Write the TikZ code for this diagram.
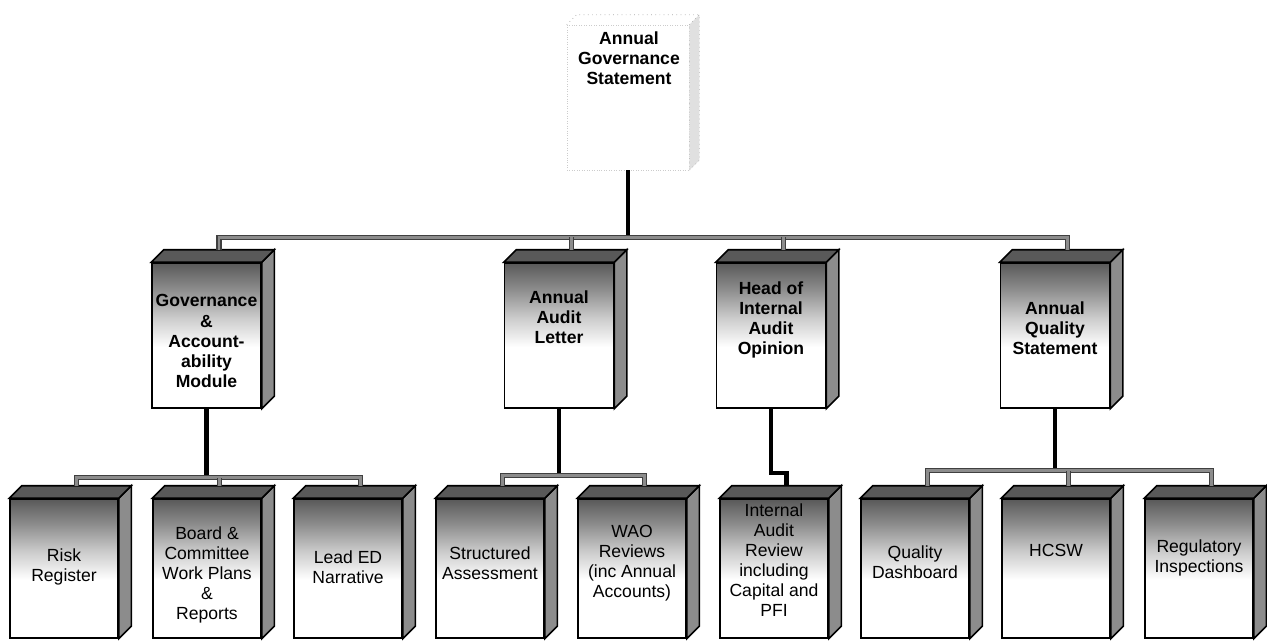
\documentclass[tikz,border=0pt]{standalone}
\usepackage{fontspec}
\setmainfont{Liberation Sans}
\usepackage{tikz}
\usetikzlibrary{positioning}

% dark at the top of a box, white lower down
\pgfdeclareverticalshading{frontshade}{100bp}{color(0bp)=(white); color(46bp)=(white); color(56bp)=(black!20); color(66bp)=(black!45); color(75bp)=(black!65); color(100bp)=(black!65)}

\tikzset{
  headbox/.style={draw, line width=0.9pt, shading=frontshade, minimum width=21.8mm, minimum height=29mm, inner sep=0pt},
  leafbox/.style={headbox, minimum width=21.6mm, minimum height=27.8mm},
  faintbox/.style={draw=black!20, densely dotted, minimum width=24.4mm, minimum height=29mm, inner sep=0pt},
  headtext/.style={font=\bfseries\fontsize{10}{11.4}\selectfont, align=center, inner sep=0pt},
  leaftext/.style={font=\fontsize{10}{11.4}\selectfont, align=center, inner sep=0pt},
  sideface/.style={draw, line width=0.9pt, fill=black!45},
  topface/.style={draw, line width=0.9pt, fill=black!65},
  stem/.style={line width=0.9mm},
  bus/.style={draw=black!75, line width=0.25mm, double=black!45, double distance=0.55mm},
}

% side and top of a box, plus the point where its line comes in
\newcommand{\boxfaces}[1]{%
  \path[sideface] (#1.north east) -- ++(2.5mm,2.5mm) -- ([shift={(2.5mm,2.5mm)}]#1.south east) -- (#1.south east) -- cycle;
  \path[topface] (#1.north west) -- ++(2.5mm,2.5mm) -- ([shift={(2.5mm,2.5mm)}]#1.north east) -- (#1.north east) -- cycle;
  \coordinate (#1-top) at ([shift={(2.5mm,2.5mm)}]#1.north);
}

\begin{document}
\begin{tikzpicture}[x=0.2mm, y=-0.2mm]
  \useasboundingbox (0,0) rectangle (1267,640);

  % Top box
  \node[faintbox] (ags) at (628,97.5) {};
  \path[draw=black!30, dotted, fill=black!12] (ags.north east) -- ++(2mm,2mm) -- ([shift={(2mm,2mm)}]ags.south east) -- (ags.south east) -- cycle;
  \path[draw=black!35, dotted] (ags.north west) -- ++(2mm,2mm) -- ([shift={(2mm,2mm)}]ags.north east);
  \node[headtext] (agstext) at (629,58) {Annual\\Governance\\Statement};

  % Second row
  \node[headbox] (gov) at (206.5,335.5) {};
  \boxfaces{gov}
  \node[headtext] (govtext) at (206.5,341) {Governance\\\&\\Account-\\ability\\Module};

  \node[headbox] (aal) at (559,335.5) {};
  \boxfaces{aal}
  \node[headtext] (aaltext) at (559,317) {Annual\\Audit\\Letter};

  \node[headbox] (hia) at (771,335.5) {};
  \boxfaces{hia}
  \node[headtext] (hiatext) at (771,320) {Head of\\Internal\\Audit\\Opinion};

  \node[headbox] (aqs) at (1055,335.5) {};
  \boxfaces{aqs}
  \node[headtext] (aqstext) at (1055,328) {Annual\\Quality\\Statement};

  % Bottom row
  \node[leafbox] (risk) at (64,568.5) {};
  \boxfaces{risk}
  \node[leaftext] (risktext) at (64,567) {Risk\\Register};

  \node[leafbox] (board) at (207,568.5) {};
  \boxfaces{board}
  \node[leaftext] (boardtext) at (207,575) {Board \&\\Committee\\Work Plans\\\&\\Reports};

  \node[leafbox] (lead) at (348,568.5) {};
  \boxfaces{lead}
  \node[leaftext] (leadtext) at (348,567) {Lead ED\\Narrative};

  \node[leafbox] (struct) at (490,568.5) {};
  \boxfaces{struct}
  \node[leaftext] (structtext) at (490,563) {Structured\\Assessment};

  \node[leafbox] (wao) at (632,568.5) {};
  \boxfaces{wao}
  \node[leaftext] (waotext) at (632,563) {WAO\\Reviews\\(inc Annual\\Accounts)};

  \node[leafbox] (iar) at (774,568.5) {};
  \boxfaces{iar}
  \node[leaftext] (iartext) at (774,560) {Internal\\Audit\\Review\\including\\Capital and\\PFI};

  \node[leafbox] (qd) at (915,568.5) {};
  \boxfaces{qd}
  \node[leaftext] (qdtext) at (915,562) {Quality\\Dashboard};

  \node[leafbox] (hcsw) at (1056,568.5) {};
  \boxfaces{hcsw}
  \node[leaftext] (hcswtext) at (1056,550) {HCSW};

  \node[leafbox] (reg) at (1199,568.5) {};
  \boxfaces{reg}
  \node[leaftext] (regtext) at (1199,558) {Regulatory\\Inspections};

  % Lines from the top box
  \coordinate (bus0) at ([yshift=-13.4mm]ags.south);
  \draw[stem] (ags.south) -- (bus0);
  \draw[bus] (gov-top) |- (bus0) -| (aqs-top);
  \draw[bus] (aal-top) -- (aal-top |- bus0);
  \draw[bus] (hia-top) -- (hia-top |- bus0);

  % Lines to the bottom row
  \coordinate (bus1) at ([yshift=-13.8mm]gov.south);
  \draw[stem] (gov.south) -- (bus1);
  \draw[bus] (risk-top) |- (bus1) -| (lead-top);
  \draw[bus] (board-top) -- (board-top |- bus1);

  \coordinate (bus2) at ([yshift=-13.4mm]aal.south);
  \draw[stem] (aal.south) -- (bus2);
  \draw[bus] (struct-top) |- (bus2) -| (wao-top);

  \coordinate (bus3) at ([yshift=-12.8mm]hia.south);
  \draw[stem] (hia.south) -- (bus3) -| (iar-top);

  \coordinate (bus4) at ([yshift=-12.4mm]aqs.south);
  \draw[stem] (aqs.south) -- (bus4);
  \draw[bus] (qd-top) |- (bus4) -| (reg-top);
  \draw[bus] (hcsw-top) -- (hcsw-top |- bus4);
\end{tikzpicture}
\end{document}
